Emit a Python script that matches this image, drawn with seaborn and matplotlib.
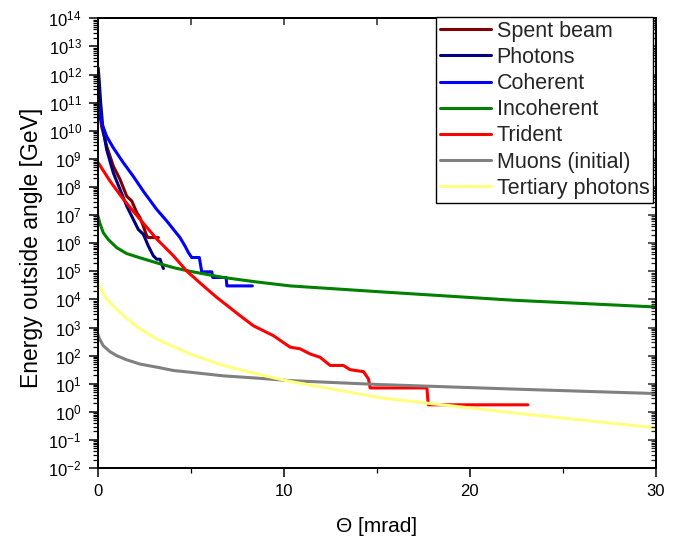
import numpy as np
import pandas as pd
import matplotlib
matplotlib.use("Agg")
import matplotlib.pyplot as plt
import seaborn as sns
from matplotlib.ticker import LogLocator, MultipleLocator, NullFormatter, FixedLocator

# ---------------- data (theta in mrad, energy as log10 GeV) -------------
spent_theta = [0.03, 0.21, 0.48, 0.84, 1.2, 1.56, 1.83, 2.1, 2.27, 2.45, 2.63, 2.72, 3.26]
spent_logE = [11.0, 10.16, 9.45, 8.74, 8.27, 7.67, 7.5, 7.09, 6.91, 6.61, 6.26, 6.2, 6.2]

photons_theta = [0.03, 0.09, 0.16, 0.27, 0.48, 0.84, 1.2, 1.56, 1.91, 2.18, 2.45, 2.72, 2.99, 3.17, 3.35, 3.53]
photons_logE = [12.23, 11.7, 10.99, 10.16, 9.33, 8.5, 7.91, 7.32, 6.85, 6.49, 6.32, 5.9, 5.55, 5.43, 5.43, 5.1]

coherent_theta = [0.03, 0.21, 0.48, 0.84, 1.38, 1.91, 2.45, 3.17, 3.71, 4.07, 4.42, 4.69, 4.87, 5.05,
                  5.46, 5.59, 6.13, 6.18, 6.9, 6.94, 8.31]
coherent_logE = [10.99, 10.28, 9.8, 9.39, 8.86, 8.38, 7.85, 7.2, 6.79, 6.49, 6.2, 5.9, 5.67, 5.49,
                 5.49, 4.98, 4.98, 4.78, 4.78, 4.48, 4.48]

incoh_theta = [0.0, 0.12, 0.3, 0.57, 1.02, 1.56, 2.27, 3.17, 4.07, 4.96, 6.75, 8.55, 10.34, 15.18, 22.35, 30.0]
incoh_logE = [7.0, 6.7, 6.37, 6.13, 5.84, 5.63, 5.48, 5.3, 5.13, 5.0, 4.78, 4.62, 4.48, 4.27, 3.97, 3.73]

trident_theta = [0.03, 0.66, 1.38, 2.27, 3.17, 4.07, 4.78, 5.68, 6.4, 7.65, 8.37, 9.44, 10.34, 10.88,
                 11.41, 11.95, 12.49, 13.2, 13.56, 14.28, 14.55, 14.64, 17.69, 17.76, 23.11]
trident_logE = [8.86, 8.21, 7.56, 6.85, 6.15, 5.55, 5.01, 4.48, 4.07, 3.42, 3.06, 2.71, 2.3, 2.24,
                2.06, 1.94, 1.65, 1.65, 1.5, 1.43, 1.17, 0.85, 0.85, 0.25, 0.25]

muons_theta = [0.0, 0.1, 0.3, 0.66, 1.02, 1.56, 2.27, 3.17, 4.07, 4.96, 6.75, 8.55, 10.34, 15.18, 22.35, 30.0]
muons_logE = [2.77, 2.59, 2.35, 2.14, 2.0, 1.85, 1.7, 1.59, 1.47, 1.41, 1.28, 1.2, 1.11, 0.97, 0.81, 0.65]

tert_theta = [0.0, 0.12, 0.48, 0.84, 1.38, 2.27, 3.17, 4.96, 6.75, 8.55, 10.34, 13.03, 15.18, 17.69, 23.24, 30.0]
tert_logE = [4.66, 4.43, 4.01, 3.77, 3.42, 2.95, 2.59, 2.06, 1.65, 1.35, 1.08, 0.76, 0.5, 0.31, -0.1, -0.57]

series_names = ["Spent beam", "Photons", "Coherent", "Incoherent", "Trident",
                "Muons (initial)", "Tertiary photons"]
series_colors = ["#800000", "#000080", "#0000FF", "#008000", "#FF0000", "#808080", "#FFFF80"]

x_ticks = [0, 10, 20, 30]

# ---------------- build table ----------------
all_theta = [spent_theta, photons_theta, coherent_theta, incoh_theta,
             trident_theta, muons_theta, tert_theta]
all_logE = [spent_logE, photons_logE, coherent_logE, incoh_logE,
            trident_logE, muons_logE, tert_logE]
frames = []
for name, th, le in zip(series_names, all_theta, all_logE):
    frames.append(pd.DataFrame({"theta": th, "energy": np.power(10.0, le), "series": name}))
df = pd.concat(frames, ignore_index=True)

# ---------------- style ----------------
sns.set_theme(style="white")
plt.rcParams["font.family"] = ["Liberation Sans", "DejaVu Sans"]
plt.rcParams["mathtext.fontset"] = "custom"
plt.rcParams["mathtext.rm"] = "Liberation Sans"
plt.rcParams["mathtext.it"] = "Liberation Sans:italic"
plt.rcParams["mathtext.bf"] = "Liberation Sans:bold"

fig = plt.figure(figsize=(6.78, 5.38), dpi=100)
ax = fig.add_axes([0.1441, 0.130, 0.8235, 0.836])

sns.lineplot(data=df, x="theta", y="energy", hue="series", hue_order=series_names,
             palette=dict(zip(series_names, series_colors)), sort=False, estimator=None,
             linewidth=2.2, ax=ax)

ax.set_yscale("log")
ax.set_xlim(0, 30)
ax.set_ylim(1e-2, 1e14)

for s in ax.spines.values():
    s.set_color("black")
    s.set_linewidth(1.2)

ax.xaxis.set_major_locator(FixedLocator(x_ticks))
ax.xaxis.set_minor_locator(MultipleLocator(5))
ax.yaxis.set_major_locator(LogLocator(base=10, numticks=30))
ax.yaxis.set_minor_locator(LogLocator(base=10, subs=np.arange(2, 10), numticks=300))
ax.yaxis.set_minor_formatter(NullFormatter())
ax.tick_params(axis="both", which="major", direction="out", length=6.5, width=1.1,
               labelsize=12, color="black", labelcolor="black", bottom=True, left=True)
ax.tick_params(axis="both", which="minor", direction="out", length=3.5, width=0.9,
               color="black", bottom=True, left=True)
ax.tick_params(axis="y", which="major", pad=5)
ax.tick_params(axis="x", which="major", pad=5)

# mirrored axes with inward ticks
axr = ax.twinx()
axr.set_yscale("log")
axr.set_ylim(ax.get_ylim())
axr.yaxis.set_major_locator(LogLocator(base=10, numticks=30))
axr.yaxis.set_minor_locator(LogLocator(base=10, subs=np.arange(2, 10), numticks=300))
axr.tick_params(axis="y", which="major", direction="in", length=6, width=1.1, labelright=False, right=True)
axr.tick_params(axis="y", which="minor", direction="in", length=3.5, width=0.9, right=True)
axt = ax.twiny()
axt.set_xlim(ax.get_xlim())
axt.xaxis.set_major_locator(MultipleLocator(5))
axt.tick_params(axis="x", which="major", direction="in", length=5, width=1.1, labeltop=False, top=True)
for a in (axr, axt):
    for s in a.spines.values():
        s.set_color("black")
        s.set_linewidth(1.2)

ax.set_xlabel("\u0398 [mrad]", fontsize=15, color="black", va="center")
ax.xaxis.set_label_coords(0.5003, -0.1305)
ax.set_ylabel("Energy outside angle [GeV]", fontsize=16.5, color="black", va="center")
ax.yaxis.set_label_coords(-0.118, 0.49)

handles, labels = ax.get_legend_handles_labels()
if ax.get_legend() is not None:
    ax.get_legend().remove()
leg = axt.legend(handles, labels, loc="upper right", bbox_to_anchor=(0.995, 1.003),
                 borderaxespad=0.0, fontsize=15.5, frameon=True, fancybox=False,
                 edgecolor="black", framealpha=1.0, handlelength=2.4, handletextpad=0.25,
                 labelspacing=0.24, borderpad=0.18)
leg.get_frame().set_linewidth(1.0)
for line in leg.get_lines():
    line.set_linewidth(2.2)

fig.savefig("out.png", dpi=100)
